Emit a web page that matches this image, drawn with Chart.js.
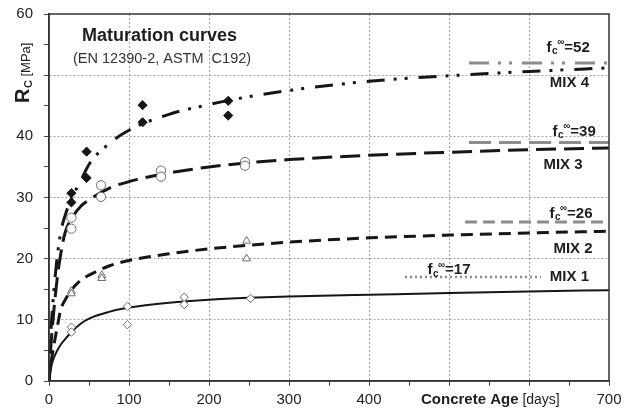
<!DOCTYPE html>
<html>
<head>
<meta charset="utf-8">
<script src="https://cdn.jsdelivr.net/npm/chart.js@4/dist/chart.umd.min.js"></script>
<style>
  html, body { margin: 0; padding: 0; background: #fff; }
  #wrap { width: 635px; height: 413px; }
</style>
</head>
<body>
<div id="wrap"><canvas id="chart" width="635" height="413"></canvas></div>
<script>
// ---- data -------------------------------------------------------------
// fitted maturation curves, sampled at these ages (days)
const curveAges = [0, 2, 5, 10, 15, 20, 28, 40, 50, 75, 100, 150, 200, 250, 300, 400, 500, 600, 700];
const mix1Curve = [0, 1.8, 3.4, 4.9, 6.0, 6.8, 8.0, 9.4, 10.2, 11.3, 12.0, 12.8, 13.3, 13.6, 13.8, 14.1, 14.4, 14.65, 14.85];
const mix2Curve = [0, 2.5, 5.0, 8.6, 11.8, 13.2, 14.9, 16.5, 17.3, 18.8, 19.7, 20.8, 21.6, 22.2, 22.7, 23.4, 23.85, 24.2, 24.5];
const mix3Curve = [0, 5.0, 10.0, 16.5, 21.0, 24.2, 26.5, 28.6, 29.6, 31.5, 32.6, 34.0, 35.0, 35.7, 36.2, 36.9, 37.4, 37.8, 38.1];
const mix4Curve = [0, 7.0, 13.0, 20.0, 24.5, 27.0, 29.8, 32.8, 35.4, 38.8, 41.0, 43.6, 45.2, 46.5, 47.5, 49.0, 49.9, 50.6, 51.2];

// measured compressive strengths (age in days, Rc in MPa)
const mix1Ages = [28, 28, 98, 98, 169, 169, 252];
const mix1Rc   = [8.8, 8.0, 12.2, 9.2, 13.7, 12.5, 13.5];
const mix2Ages = [28, 28, 66, 66, 247, 247];
const mix2Rc   = [14.7, 14.3, 17.3, 16.8, 22.9, 20.0];
const mix3Ages = [28, 28, 65, 65, 140, 140, 245, 245];
const mix3Rc   = [26.7, 24.9, 32.0, 30.1, 34.4, 33.4, 35.8, 35.2];
const mix4Ages = [28, 28, 47, 47, 117, 117, 224, 224];
const mix4Rc   = [30.7, 29.2, 37.5, 33.2, 45.1, 42.3, 45.8, 43.4];

// asymptotic strengths and the age span of their reference lines
const mixNames    = ['MIX 1', 'MIX 2', 'MIX 3', 'MIX 4'];
const fcInf       = [17, 26, 39, 52];
const fcLineStart = [445, 520, 525, 525];
const fcLineEnd   = [615, 700, 700, 700];

// axis tick labels (the axis titles take the place of the others)
const xTickLabels = [0, 100, 200, 300, 400, 700];
const yTickLabels = [0, 10, 20, 30, 40, 60];

// ---- styling ------------------------------------------------------------
const FONT = '"Liberation Sans", Arial, Helvetica, sans-serif';
const INK = '#161616';
const GREY_REF = '#8c8c8c';
const GREY_MARK = '#6e6e6e';
const GRID = '#a2a2a2';

const pts = (xs, ys) => xs.map((x, i) => ({ x, y: ys[i] }));

const curveStyles = [
  { color: INK, width: 2,   dash: [] },
  { color: INK, width: 3,   dash: [12, 7] },
  { color: INK, width: 3,   dash: [20, 8] },
  { color: INK, width: 3,   dash: [18, 9, 3, 8, 3, 11] }
];
const refStyles = [
  { width: 2.5, dash: [2, 3] },
  { width: 3,   dash: [12, 6] },
  { width: 3,   dash: [22, 8] },
  { width: 3,   dash: [20, 9, 3, 8, 3, 10] }
];
const curves = [mix1Curve, mix2Curve, mix3Curve, mix4Curve];
const measured = [[mix1Ages, mix1Rc], [mix2Ages, mix2Rc], [mix3Ages, mix3Rc], [mix4Ages, mix4Rc]];
const markerStyles = [
  { style: 'rectRot',  radius: 4.2, fill: '#fff', stroke: GREY_MARK },
  { style: 'triangle', radius: 4.5, fill: '#fff', stroke: GREY_MARK },
  { style: 'circle',   radius: 4.6, fill: '#fff', stroke: GREY_MARK },
  { style: 'rectRot',  radius: 4.6, fill: INK,    stroke: INK }
];

const datasets = [];
fcInf.forEach((v, i) => {
  datasets.push({
    type: 'scatter', showLine: true, pointRadius: 0,
    data: [{ x: fcLineStart[i], y: v }, { x: fcLineEnd[i], y: v }],
    borderColor: GREY_REF, borderWidth: refStyles[i].width, borderDash: refStyles[i].dash,
    borderCapStyle: 'butt', order: 3
  });
});
curves.forEach((c, i) => {
  datasets.push({
    type: 'scatter', showLine: true, pointRadius: 0,
    data: pts(curveAges, c), cubicInterpolationMode: 'monotone',
    borderColor: curveStyles[i].color, borderWidth: curveStyles[i].width,
    borderDash: curveStyles[i].dash, borderCapStyle: 'butt', order: 2
  });
});
measured.forEach(([xs, ys], i) => {
  const m = markerStyles[i];
  datasets.push({
    type: 'scatter', showLine: false, data: pts(xs, ys),
    pointStyle: m.style, pointRadius: m.radius, pointBackgroundColor: m.fill,
    pointBorderColor: m.stroke, pointBorderWidth: 1, order: 1
  });
});

// label anchors (data coordinates: left edge, vertical centre)
const labelAnchors = {
  fc:  [{ x: 473, y: 18.1 }, { x: 625.5, y: 27.4 }, { x: 629.5, y: 40.8 }, { x: 622, y: 54.5 }],
  mix: [{ x: 626, y: 17.1 }, { x: 630.5, y: 21.6 }, { x: 618, y: 35.3 }, { x: 626, y: 48.8 }]
};

function drawFcLabel(ctx, x, y, value) {
  ctx.textAlign = 'left';
  ctx.textBaseline = 'middle';
  ctx.font = `bold 15px ${FONT}`;
  ctx.fillText('f', x, y);
  const fw = ctx.measureText('f').width;
  ctx.font = `bold 10px ${FONT}`;
  ctx.fillText('c', x + fw + 0.5, y + 4);
  const cw = ctx.measureText('c').width;
  ctx.fillText('\u221E', x + fw + cw, y - 5);
  const iw = ctx.measureText('\u221E').width;
  ctx.font = `bold 15px ${FONT}`;
  ctx.fillText('=' + value, x + fw + cw + iw, y);
}

const annotations = {
  id: 'annotations',
  afterDatasetsDraw(chart) {
    const { ctx, chartArea: a, scales: { x: sx, y: sy } } = chart;
    ctx.save();
    // frame around the plot
    ctx.strokeStyle = '#333';
    ctx.lineWidth = 1.5;
    ctx.strokeRect(a.left, a.top, a.right - a.left, a.bottom - a.top);

    ctx.fillStyle = '#1e1e1e';
    // heading
    ctx.textAlign = 'left';
    ctx.textBaseline = 'alphabetic';
    ctx.font = `bold 18px ${FONT}`;
    ctx.fillText('Maturation curves', 82, 41);
    ctx.fillStyle = '#333';
    ctx.font = `14.5px ${FONT}`;
    ctx.fillText('(EN 12390-2, ASTM  C192)', 73, 63);

    // curve labels
    ctx.fillStyle = '#1e1e1e';
    fcInf.forEach((v, i) => {
      const p = labelAnchors.fc[i];
      drawFcLabel(ctx, sx.getPixelForValue(p.x), sy.getPixelForValue(p.y), v);
    });
    ctx.font = `bold 15px ${FONT}`;
    ctx.textBaseline = 'middle';
    mixNames.forEach((n, i) => {
      const p = labelAnchors.mix[i];
      ctx.fillText(n, sx.getPixelForValue(p.x), sy.getPixelForValue(p.y));
    });

    // x axis title
    ctx.textBaseline = 'middle';
    ctx.font = `bold 15px ${FONT}`;
    ctx.fillText('Concrete Age', 421, 400);
    const tw = ctx.measureText('Concrete Age').width;
    ctx.font = `14px ${FONT}`;
    ctx.fillText(' [days]', 421 + tw, 400.5);

    // y axis title
    ctx.translate(29, 103);
    ctx.rotate(-Math.PI / 2);
    ctx.textBaseline = 'alphabetic';
    ctx.font = `bold 20px ${FONT}`;
    ctx.fillText('R', 0, 0);
    const rw = ctx.measureText('R').width;
    ctx.font = `bold 11px ${FONT}`;
    ctx.fillText('C', rw + 0.5, 2.5);
    const subw = ctx.measureText('C').width;
    ctx.font = `13px ${FONT}`;
    ctx.fillText(' [MPa]', rw + subw + 0.5, 1);
    ctx.restore();
  }
};

Chart.defaults.font.family = FONT;
Chart.defaults.color = '#222';

new Chart(document.getElementById('chart'), {
  type: 'scatter',
  data: { datasets },
  options: {
    responsive: false,
    animation: false,
    devicePixelRatio: 1,
    layout: { padding: { top: 14, right: 26, left: 0, bottom: 0 } },
    plugins: { legend: { display: false }, tooltip: { enabled: false } },
    scales: {
      x: {
        type: 'linear', min: 0, max: 700,
        afterFit: s => { s.height = 32; },
        ticks: {
          stepSize: 50, autoSkip: false, maxRotation: 0, padding: 5,
          font: { size: 15 }, color: '#222',
          callback: v => (xTickLabels.includes(v) ? String(v) : '')
        },
        grid: {
          color: c => (c.tick && c.tick.value % 100 === 0 && c.tick.value > 0 && c.tick.value < 700) ? GRID : 'rgba(0,0,0,0)',
          lineWidth: 1, drawTicks: true, tickLength: 5,
          tickColor: '#444', tickBorderDash: [], tickWidth: 1
        },
        border: { display: true, color: '#333', width: 1.5, dash: [2, 2] }
      },
      y: {
        type: 'linear', min: 0, max: 60,
        afterFit: s => { s.width = 49; s.paddingTop = 0; s.paddingBottom = 0; },
        ticks: {
          stepSize: 5, autoSkip: false, padding: 11,
          font: { size: 15 }, color: '#222',
          callback: v => (yTickLabels.includes(v) ? String(v) : '')
        },
        grid: {
          color: c => (c.tick && c.tick.value % 10 === 0 && c.tick.value > 0 && c.tick.value < 60) ? GRID : 'rgba(0,0,0,0)',
          lineWidth: 1, drawTicks: true, tickLength: 5,
          tickColor: '#444', tickBorderDash: [], tickWidth: 1
        },
        border: { display: true, color: '#333', width: 1.5, dash: [2, 2] }
      }
    }
  },
  plugins: [annotations]
});
</script>
</body>
</html>
